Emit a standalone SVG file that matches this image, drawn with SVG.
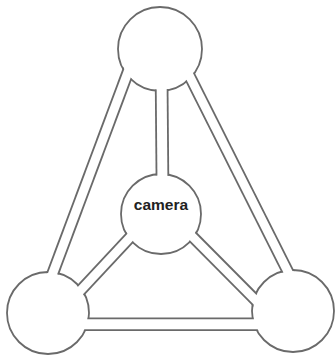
<svg xmlns="http://www.w3.org/2000/svg" width="336" height="356" viewBox="0 0 336 356">
<defs>
<style>
.node circle { fill:#ffffff; stroke:#6a6a6a; stroke-width:1.8; }
.edge { stroke:#6a6a6a; fill:none; stroke-linecap:butt; }
.core { stroke:#ffffff; fill:none; stroke-linecap:butt; }
.label { font-family:"Liberation Sans", Arial, sans-serif; font-size:15.5px; font-weight:bold; fill:#222222; text-anchor:middle; }
</style>
<mask id="outside" maskUnits="userSpaceOnUse" x="0" y="0" width="336" height="356">
<rect x="0" y="0" width="336" height="356" fill="#ffffff"/>
<circle cx="160" cy="49" r="41.1" fill="#000000"/>
<circle cx="161" cy="214" r="39.1" fill="#000000"/>
<circle cx="48" cy="313" r="40.1" fill="#000000"/>
<circle cx="293" cy="311" r="40.1" fill="#000000"/>
</mask>
</defs>
<rect x="0" y="0" width="336" height="356" fill="#ffffff"/>
<g id="node-top" class="node"><circle cx="160" cy="49" r="42"/></g>
<g id="node-camera" class="node"><circle cx="161" cy="214" r="40"/><text class="label" x="161" y="210">camera</text></g>
<g id="node-bottom-left" class="node"><circle cx="48" cy="313" r="41"/></g>
<g id="node-bottom-right" class="node"><circle cx="293" cy="311" r="41"/></g>
<g id="connectors">
<g mask="url(#outside)">
<line class="edge" x1="132.5" y1="60" x2="46.5" y2="290" stroke-width="12.6"/>
<line class="edge" x1="161.5" y1="70" x2="162.5" y2="188" stroke-width="13.6"/>
<line class="edge" x1="184" y1="65" x2="294.6" y2="285" stroke-width="12.3"/>
<line class="edge" x1="136" y1="231" x2="70" y2="301.7" stroke-width="12.3"/>
<line class="edge" x1="188" y1="232.2" x2="265" y2="309.7" stroke-width="12.3"/>
<line class="edge" x1="70" y1="324.3" x2="272" y2="324.3" stroke-width="13.6"/>
</g>
<g>
<line class="core" x1="132.5" y1="60" x2="46.5" y2="290" stroke-width="9"/>
<line class="core" x1="161.5" y1="70" x2="162.5" y2="188" stroke-width="10"/>
<line class="core" x1="184" y1="65" x2="294.6" y2="285" stroke-width="8.7"/>
<line class="core" x1="136" y1="231" x2="70" y2="301.7" stroke-width="8.7"/>
<line class="core" x1="188" y1="232.2" x2="265" y2="309.7" stroke-width="8.7"/>
<line class="core" x1="70" y1="324.3" x2="272" y2="324.3" stroke-width="10"/>
</g>
</g>
</svg>
